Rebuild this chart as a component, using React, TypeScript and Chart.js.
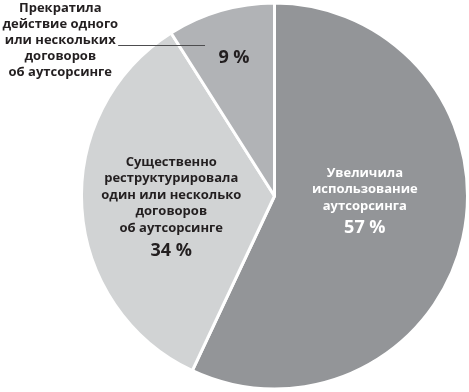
import React, { useEffect, useRef } from "react";
import { Chart, registerables } from "chart.js";

Chart.register(...registerables);

const categories = [
  "Увеличила использование аутсорсинга",
  "Существенно реструктурировала один или несколько договоров об аутсорсинге",
  "Прекратила действие одного или нескольких договоров об аутсорсинге",
];
const values = [57, 34, 9];
const colors = ["#939598", "#d1d3d4", "#b1b3b6"];

const labelLines = [
  ["Увеличила", "использование", "аутсорсинга"],
  ["Существенно", "реструктурировала", "один или несколько", "договоров", "об аутсорсинге"],
  [],
];
const outsideLines = ["Прекратила", "действие одного", "или нескольких", "договоров", "об аутсорсинге"];
const percentLabels = ["57 %", "34 %", "9 %"];

const FONT = '"Open Sans", "Noto Sans", sans-serif';

const labelPlugin = {
  id: "labelPlugin",
  afterDraw(chart: any) {
    const meta = chart.getDatasetMeta(0);
    const arc: any = meta.data[0];
    if (!arc) return;
    const cx = arc.x;
    const cy = arc.y;
    const r = arc.outerRadius;
    const ctx = chart.ctx;
    ctx.save();
    ctx.textAlign = "center";
    ctx.textBaseline = "middle";
    const lh = 16.5;

    // 57% slice
    let x = cx + r * 0.468;
    let y = cy - r * 0.118;
    ctx.fillStyle = "#ffffff";
    ctx.font = `bold 13px ${FONT}`;
    labelLines[0].forEach((t, i) => ctx.fillText(t, x, y + i * lh));
    ctx.font = `bold 18px ${FONT}`;
    ctx.fillText(percentLabels[0], x, y + 3 * lh + 5);

    // 34% slice
    x = cx - r * 0.535;
    y = cy - r * 0.175;
    ctx.fillStyle = "#231f20";
    ctx.font = `bold 13px ${FONT}`;
    labelLines[1].forEach((t, i) => ctx.fillText(t, x, y + i * lh));
    ctx.font = `bold 18px ${FONT}`;
    ctx.fillText(percentLabels[1], x, y + 5 * lh + 6);

    // 9% slice
    ctx.font = `bold 18px ${FONT}`;
    ctx.fillText(percentLabels[2], cx - r * 0.21, cy - r * 0.715);

    // outside label
    ctx.font = `bold 13px ${FONT}`;
    const ox = cx - r * 1.11;
    const oy = cy - r * 0.97;
    outsideLines.forEach((t, i) => ctx.fillText(t, ox, oy + i * 16));

    // leader line
    ctx.strokeStyle = "#4d4d4f";
    ctx.lineWidth = 1;
    ctx.beginPath();
    const ly = Math.round(cy - r * 0.78) + 0.5;
    ctx.moveTo(cx - r * 0.81, ly);
    ctx.lineTo(cx - r * 0.36, ly);
    ctx.stroke();
    ctx.restore();
  },
};

export default function App() {
  const ref = useRef<HTMLCanvasElement | null>(null);
  useEffect(() => {
    if (!ref.current) return;
    const chart = new Chart(ref.current, {
      type: "pie",
      data: {
        labels: categories,
        datasets: [
          {
            data: values,
            backgroundColor: colors,
            borderColor: "#ffffff",
            borderWidth: 3,
          },
        ],
      },
      options: {
        animation: false,
        responsive: true,
        maintainAspectRatio: false,
        rotation: 0,
        layout: { padding: { left: 80, top: 0, right: 0, bottom: 0 } },
        plugins: {
          legend: { display: false },
          tooltip: { enabled: false },
        },
      },
      plugins: [labelPlugin],
    });
    return () => chart.destroy();
  }, []);
  return (
    <div
      style={{
        position: "fixed",
        left: 0,
        top: 0,
        width: 469,
        height: 392,
        background: "#ffffff",
      }}
    >
      <canvas ref={ref} />
    </div>
  );
}
